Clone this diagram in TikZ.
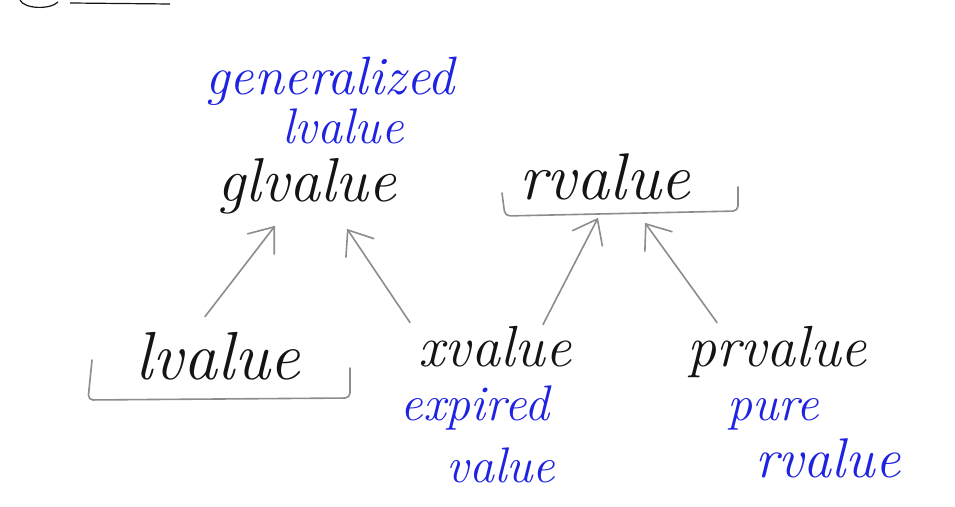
\documentclass[tikz,border=0pt]{standalone}
\usepackage{fontspec}
\usetikzlibrary{arrows.meta}
\definecolor{inkblue}{RGB}{30,35,225}
\definecolor{inkgray}{RGB}{140,140,140}
\definecolor{ink}{RGB}{20,20,20}
\begin{document}
\begin{tikzpicture}[x=1pt,y=1pt,
	word/.style={anchor=base,inner sep=0pt,text=ink,font=\fontsize{#1}{#1}\selectfont\itshape},
	word/.default=58,
	note/.style={anchor=base,inner sep=0pt,text=inkblue,font=\fontsize{#1}{#1}\selectfont\itshape},
	note/.default=50,
	arr/.style={draw=inkgray,line width=1.6pt,line cap=round,-{Straight Barb[length=22pt,width=34pt,line width=1.6pt]}},
	brk/.style={draw=inkgray,line width=1.6pt,line cap=round,rounded corners=5pt}]
	\useasboundingbox (0,0) rectangle (955,506);
	\draw[ink,line width=1.2pt] (20,506) .. controls (24,497) and (50,496) .. (58,504);
	\draw[ink,line width=1.2pt] (70,503) -- (170,502);
	% top row
	\node[note=54] (gen) at (330,411) {generalized};
	\node[note] (genl) at (343,362) {lvalue};
	\node[word=62] (gl) at (307,304) {glvalue};
	\node[word=66] (rv) at (605,306) {rvalue};
	\draw[brk] (502,313) -- (505,290) -- (738,295) -- (738,319);
	% bottom row
	\node[word=68] (lv) at (218,126) {lvalue};
	\draw[brk] (92,146) -- (88,106) -- (350,108) -- (350,138);
	\node[word] (xv) at (495,139) {xvalue};
	\node[note] (exp) at (475,86) {expired};
	\node[note] (expv) at (501,24) {value};
	\node[word] (prv) at (777,139) {prvalue};
	\node[note] (pure) at (773,85) {pure};
	\node[note=56] (purer) at (828,29) {rvalue};
	% arrows
	\draw[arr] ([shift={(-13,16)}]lv.north) -- ([shift={(-32,-11)}]gl.south);
	\draw[arr] ([shift={(-85,4)}]xv.north) -- ([shift={(40,-14)}]gl.south);
	\draw[arr] ([shift={(48,2)}]xv.north) -- ([shift={(-7,-17)}]rv.south);
	\draw[arr] ([shift={(-60,4)}]prv.north) -- ([shift={(40,-22)}]rv.south);
\end{tikzpicture}
\end{document}
